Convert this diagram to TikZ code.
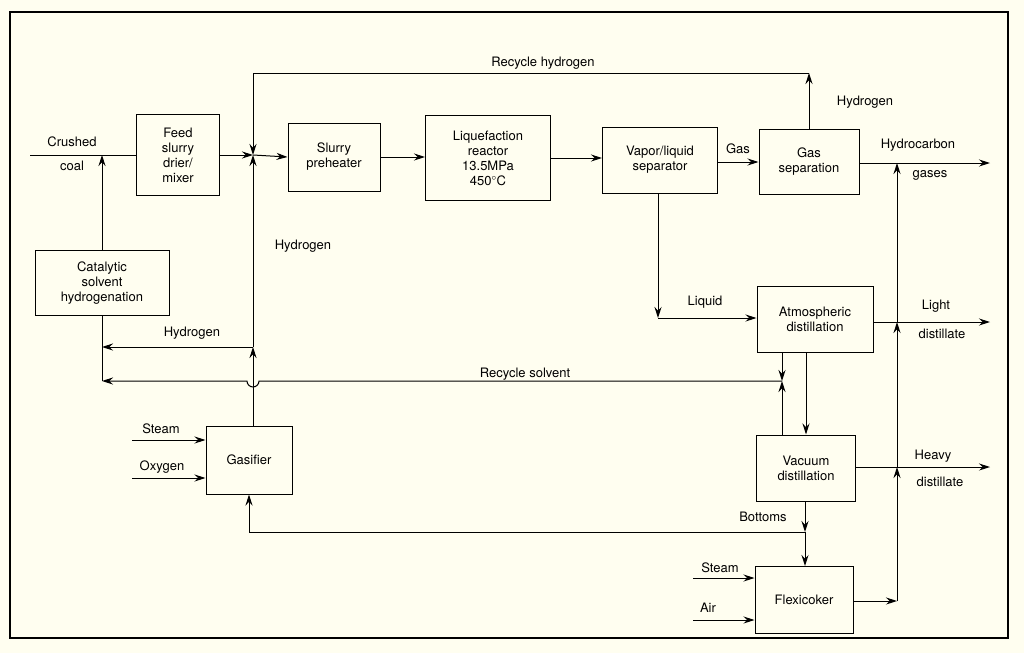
\documentclass[tikz,border=0pt]{standalone}
\usepackage{fontspec}
\setmainfont{TeX Gyre Heros}
\usetikzlibrary{arrows.meta}
\begin{document}
\begin{tikzpicture}[x=1pt,y=-1pt,
  box/.style={draw,line width=1pt,align=center,inner sep=0pt,font=\fontsize{13}{15}\selectfont},
  lab/.style={font=\fontsize{13}{15}\selectfont,inner sep=1pt},
  ar/.style={line width=1pt,-{Stealth[length=11pt,width=7pt]}},
  ln/.style={line width=1pt}]
\useasboundingbox (0,0) rectangle (1024,653);
\fill[white!94!yellow] (0,0) rectangle (1024,653);
\draw[line width=2pt] (10,12) rectangle (1008,638);
% boxes
\node[box,minimum width=83,minimum height=81] (feed) at (178,155) {Feed\\slurry\\drier/\\mixer};
\node[box,minimum width=92,minimum height=68] (pre) at (334,157) {Slurry\\preheater};
\node[box,minimum width=125,minimum height=85] (reac) at (488,158) {Liquefaction\\reactor\\13.5MPa\\450$^\circ$C};
\node[box,minimum width=115,minimum height=66] (vls) at (660,160) {Vapor/liquid\\separator};
\node[box,minimum width=100,minimum height=65] (gas) at (809,162) {Gas\\separation};
\node[box,minimum width=134,minimum height=65] (cat) at (102,283) {Catalytic\\solvent\\hydrogenation};
\node[box,minimum width=116,minimum height=66] (atm) at (815,319) {Atmospheric\\distillation};
\node[box,minimum width=99,minimum height=66] (vac) at (806,468) {Vacuum\\distillation};
\node[box,minimum width=86,minimum height=68] (gsf) at (249,460) {Gasifier};
\node[box,minimum width=98,minimum height=67] (flx) at (804,600) {Flexicoker};
% coordinates
\coordinate (coalL) at (30,155);
\coordinate (jH) at (253,155);
\coordinate (top1) at (809,73);
\coordinate (top2) at (253,73);
\coordinate (h2j) at (253,347);
\coordinate (catH) at (102,347);
\coordinate (catS) at (102,381);
\coordinate (rsR) at (782,381);
\coordinate (liqC) at (658,318);
\coordinate (bj) at (805,532);
\coordinate (bL) at (249,532);
\coordinate (riser) at (897,601);
\coordinate (o1) at (990,163);
\coordinate (o2) at (990,322);
\coordinate (o3) at (990,467);
\coordinate (s1) at (132,440);
\coordinate (s2) at (132,478);
\coordinate (s3) at (693,578);
\coordinate (s4) at (693,620);
% connectors
\draw[ln] (coalL) -- (feed.west);
\draw[ar] (cat.north) -- (102,155);
\draw[ar] (feed.east) -- (jH);
\draw[ar] (jH) -- (pre.west);
\draw[ar] (pre.east) -- (reac.west|-pre.east);
\draw[ar] (reac.east) -- (vls.west|-reac.east);
\draw[ar] (vls.east|-gas.west) -- (gas.west);
\draw[ar] (gas.north) -- (top1);
\draw[ar] (top1) -- (top2) -- (jH);
\draw[ar] (gsf.north-|h2j) -- (h2j);
\draw[ar] (h2j) -- (jH);
\draw[ar] (h2j) -- (catH);
\draw[ln] (cat.south) -- (catS);
\draw[ar] (rsR) -- (259,381) arc (0:180:6) -- (catS);
\draw[ar] (atm.south-|rsR) -- (rsR);
\draw[ar] (vac.north-|rsR) -- (rsR);
\draw[ar] (atm.south-|vac.north) -- (vac.north);
\draw[ar] (vls.south-|liqC) -- (liqC);
\draw[ar] (liqC) -- (atm.west|-liqC);
\draw[ar] (gas.east|-o1) -- (o1);
\draw[ar] (atm.east|-o2) -- (o2);
\draw[ar] (vac.east|-o3) -- (o3);
\draw[ar] (vac.south-|bj) -- (bj);
\draw[ar] (bj) -- (flx.north-|bj);
\draw[ar] (bj) -- (bL) -- (gsf.south-|bL);
\draw[ar] (flx.east|-riser) -- (riser);
\draw[ar] (riser) -- (897,467);
\draw[ar] (897,467) -- (897,322);
\draw[ar] (897,322) -- (897,163);
\draw[ar] (s1) -- (gsf.west|-s1);
\draw[ar] (s2) -- (gsf.west|-s2);
\draw[ar] (s3) -- (flx.west|-s3);
\draw[ar] (s4) -- (flx.west|-s4);
% labels
\node[lab] (l1) at (72,142) {Crushed};
\node[lab] (l2) at (72,166) {coal};
\node[lab] (l3) at (543,63) {Recycle hydrogen};
\node[lab] (l4) at (865,102) {Hydrogen};
\node[lab] (l5) at (738,149) {Gas};
\node[lab] (l6) at (303,246) {Hydrogen};
\node[lab] (l7) at (192,333) {Hydrogen};
\node[lab] (l8) at (525,374) {Recycle solvent};
\node[lab] (l9) at (705,302) {Liquid};
\node[lab] (l10) at (918,145) {Hydrocarbon};
\node[lab] (l11) at (930,175) {gases};
\node[lab] (l12) at (936,306) {Light};
\node[lab] (l13) at (942,334) {distillate};
\node[lab] (l14) at (933,456) {Heavy};
\node[lab] (l15) at (940,482) {distillate};
\node[lab] (l16) at (763,517) {Bottoms};
\node[lab] (l17) at (161,429) {Steam};
\node[lab] (l18) at (162,467) {Oxygen};
\node[lab] (l19) at (720,568) {Steam};
\node[lab] (l20) at (708,608) {Air};
\end{tikzpicture}
\end{document}
